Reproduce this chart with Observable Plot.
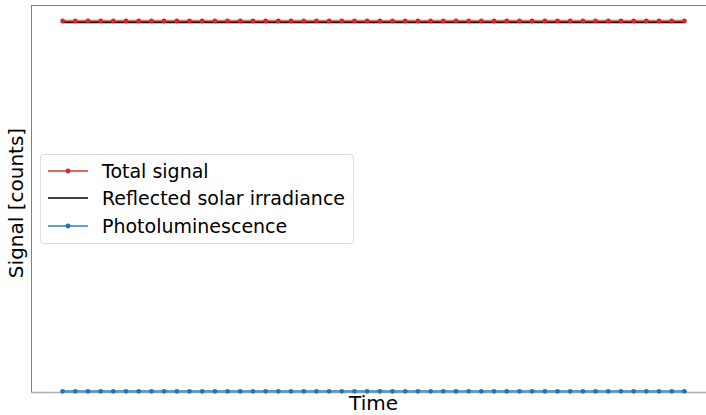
<!DOCTYPE html>
<html>
<head>
<meta charset="utf-8">
<script src="https://cdn.jsdelivr.net/npm/d3@7"></script>
<script src="https://cdn.jsdelivr.net/npm/@observablehq/plot@0.6"></script>
<style>
  html, body { margin: 0; padding: 0; background: #fff; overflow: hidden; }
  #wrap { position: relative; width: 706px; height: 415px; overflow: hidden; }
  #wrap > svg { max-width: none !important; width: 716px !important; height: 415px !important; display: block; }
  #legend {
    position: absolute; left: 40px; top: 154px; width: 312px; height: 88px;
    border: 1px solid #dcdcdc; border-radius: 4px; background: rgba(255,255,255,0.8);
    font-family: "DejaVu Sans", sans-serif; font-size: 19px; color: #000;
  }
  .row { position: absolute; left: 0; height: 24px; }
  .row svg { position: absolute; left: 6px; top: 0; }
  .row span { position: absolute; left: 61px; top: 0; line-height: 24px; white-space: nowrap; }
</style>
</head>
<body>
<div id="wrap"></div>
<script>
const time = [0,1,2,3,4,5,6,7,8,9,10,11,12,13,14,15,16,17,18,19,20,21,22,23,24,25,26,27,28,29,30,31,32,33,34,35,36,37,38,39,40,41,42,43,44,45,46,47,48,49];
const totalSignal = [96.0,96.0,96.0,96.0,96.0,96.0,96.0,96.0,96.0,96.0,96.0,96.0,96.0,96.0,96.0,96.0,96.0,96.0,96.0,96.0,96.0,96.0,96.0,96.0,96.0,96.0,96.0,96.0,96.0,96.0,96.0,96.0,96.0,96.0,96.0,96.0,96.0,96.0,96.0,96.0,96.0,96.0,96.0,96.0,96.0,96.0,96.0,96.0,96.0,96.0];
const reflected = [95.7,95.7,95.7,95.7,95.7,95.7,95.7,95.7,95.7,95.7,95.7,95.7,95.7,95.7,95.7,95.7,95.7,95.7,95.7,95.7,95.7,95.7,95.7,95.7,95.7,95.7,95.7,95.7,95.7,95.7,95.7,95.7,95.7,95.7,95.7,95.7,95.7,95.7,95.7,95.7,95.7,95.7,95.7,95.7,95.7,95.7,95.7,95.7,95.7,95.7];
const photolum = [0.3,0.3,0.3,0.3,0.3,0.3,0.3,0.3,0.3,0.3,0.3,0.3,0.3,0.3,0.3,0.3,0.3,0.3,0.3,0.3,0.3,0.3,0.3,0.3,0.3,0.3,0.3,0.3,0.3,0.3,0.3,0.3,0.3,0.3,0.3,0.3,0.3,0.3,0.3,0.3,0.3,0.3,0.3,0.3,0.3,0.3,0.3,0.3,0.3,0.3];
const seriesNames = ["Total signal", "Reflected solar irradiance", "Photoluminescence"];
const xLabel = "Time";
const yLabel = "Signal [counts]";

const red = "#d62728", blue = "#1f77b4";
const xDomain = [-2.45, 51.45];
const yDomain = [0, 100];

const tot = time.map((t, i) => ({t, v: totalSignal[i]}));
const ref = time.map((t, i) => ({t, v: reflected[i]}));
const pl = time.map((t, i) => ({t, v: photolum[i]}));

const chart = Plot.plot({
  width: 716, height: 415,
  marginLeft: 31, marginRight: 1, marginTop: 5, marginBottom: 23,
  x: {domain: xDomain, axis: null},
  y: {domain: yDomain, axis: null},
  style: {fontFamily: "DejaVu Sans, sans-serif", background: "#fff", maxWidth: "none"},
  marks: [
    Plot.ruleX([xDomain[0]], {stroke: "#808080", strokeWidth: 1}),
    Plot.ruleY([yDomain[1]], {stroke: "#808080", strokeWidth: 1}),
    Plot.ruleY([yDomain[0]], {stroke: "#b0b0b0", strokeWidth: 1.6}),
    Plot.line(ref, {x: "t", y: "v", stroke: "#000", strokeWidth: 2}),
    Plot.line(tot, {x: "t", y: "v", stroke: red, strokeOpacity: 0.7, strokeWidth: 2.5}),
    Plot.dot(tot, {x: "t", y: "v", fill: red, r: 2.4}),
    Plot.line(pl, {x: "t", y: "v", stroke: blue, strokeOpacity: 0.7, strokeWidth: 2.5}),
    Plot.dot(pl, {x: "t", y: "v", fill: blue, r: 2.4}),
    Plot.text([xLabel], {frameAnchor: "bottom", textAnchor: "middle", dy: 17, fontSize: 20, fill: "#000"}),
    Plot.text([yLabel], {frameAnchor: "left", textAnchor: "middle", dx: -15, dy: 4, rotate: -90, fontSize: 20, fill: "#000"})
  ]
});
const wrap = document.getElementById("wrap");
wrap.appendChild(chart);

const legend = document.createElement("div");
legend.id = "legend";
const styles = [
  {color: red, opacity: 0.7, dot: true, top: 4, w: 2},
  {color: "#000", opacity: 1, dot: false, top: 31, w: 1.5},
  {color: blue, opacity: 0.7, dot: true, top: 59, w: 2}
];
seriesNames.forEach((name, i) => {
  const s = styles[i];
  const row = document.createElement("div");
  row.className = "row";
  row.style.top = s.top + "px";
  row.innerHTML = `<svg width="42" height="24"><line x1="1" x2="41" y1="12" y2="12" stroke="${s.color}" stroke-opacity="${s.opacity}" stroke-width="${s.w}"/>${s.dot ? `<circle cx="21" cy="12" r="2.4" fill="${s.color}"/>` : ""}</svg><span>${name}</span>`;
  legend.appendChild(row);
});
wrap.appendChild(legend);
</script>
</body>
</html>
